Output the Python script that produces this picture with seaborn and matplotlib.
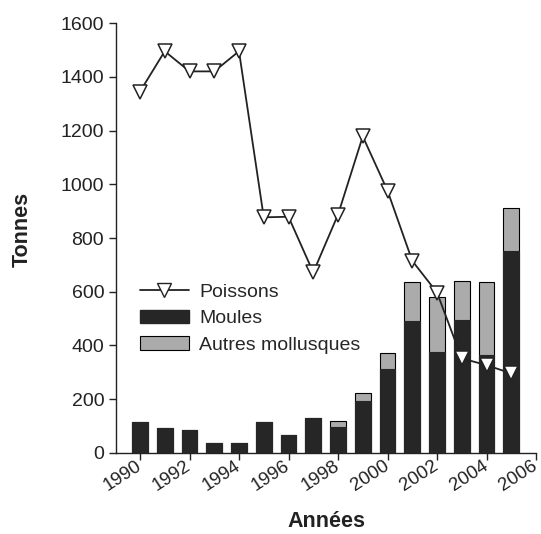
import numpy as np
import matplotlib
matplotlib.use("Agg")
import matplotlib.pyplot as plt
import seaborn as sns
from matplotlib.lines import Line2D
from matplotlib.patches import Patch

# data (tonnes per year)
years = [1990, 1991, 1992, 1993, 1994, 1995, 1996, 1997,
         1998, 1999, 2000, 2001, 2002, 2003, 2004, 2005]
poissons = [1345, 1495, 1420, 1420, 1495, 877, 879, 672,
            887, 1178, 976, 715, 597, 352, 327, 296]
moules = [114, 93, 87, 36, 36, 116, 67, 129,
          98, 195, 313, 490, 374, 495, 366, 753]
autres = [0, 0, 0, 0, 0, 0, 0, 0,
          22, 28, 58, 148, 205, 146, 272, 158]
xticks = list(range(1990, 2007, 2))

sns.set_style("ticks")
plt.rcParams['font.family'] = ['Liberation Sans', 'DejaVu Sans']

fig = plt.figure(figsize=(5.41, 5.34), dpi=100)
ax = fig.add_axes([0.2144, 0.1517, 0.7764, 0.8052])

dark = '#262626'
grey = '#ababab'

# stacked bars: total (grey) behind, moules (dark) in front
totals = np.array(moules) + np.array(autres)
sns.barplot(x=years, y=totals, native_scale=True, width=0.63, color=grey,
            saturation=1, edgecolor='black', linewidth=0.8, ax=ax, zorder=2)
sns.barplot(x=years, y=moules, native_scale=True, width=0.63, color=dark,
            saturation=1, edgecolor=dark, linewidth=0.8, ax=ax, zorder=3)

sns.lineplot(x=years, y=poissons, ax=ax, color='#222222', linewidth=1.3,
             marker='v', markersize=10, markerfacecolor='white',
             markeredgecolor='#222222', markeredgewidth=1.1, zorder=5)

ax.set_xlim(1989.03, 2006.0)
ax.set_ylim(0, 1600)
ax.set_xticks(xticks)
ax.set_xticklabels([str(y) for y in xticks], rotation=33, ha='right',
                   va='center', rotation_mode='anchor')
ax.set_yticks(range(0, 1601, 200))
ax.tick_params(axis='both', labelsize=14, length=5, width=1, direction='out',
               colors='#222222')
ax.tick_params(axis='x', labelsize=13.5)
for s in ['top', 'right']:
    ax.spines[s].set_visible(False)
for s in ['left', 'bottom']:
    ax.spines[s].set_linewidth(1)
    ax.spines[s].set_color('#222222')

ax.set_xlabel('Années', fontsize=15.5, fontweight='bold', color='#222222')
ax.set_ylabel('Tonnes', fontsize=15.5, fontweight='bold', color='#222222')
ax.yaxis.set_label_coords(-0.198, 0.52)
ax.xaxis.set_label_coords(0.5, -0.135)

handles = [
    Line2D([], [], color='#222222', lw=1.3, marker='v', markersize=10,
           markerfacecolor='white', markeredgecolor='#222222'),
    Patch(facecolor=dark, edgecolor=dark),
    Patch(facecolor=grey, edgecolor='black', linewidth=0.8),
]
ax.legend(handles, ['Poissons', 'Moules', 'Autres mollusques'],
          loc='upper left', bbox_to_anchor=(0.057, 0.395), frameon=False,
          fontsize=14, borderaxespad=0, borderpad=0, handlelength=2.5,
          handleheight=0.72, handletextpad=0.55, labelspacing=0.45)

fig.savefig('out.png', dpi=100)
